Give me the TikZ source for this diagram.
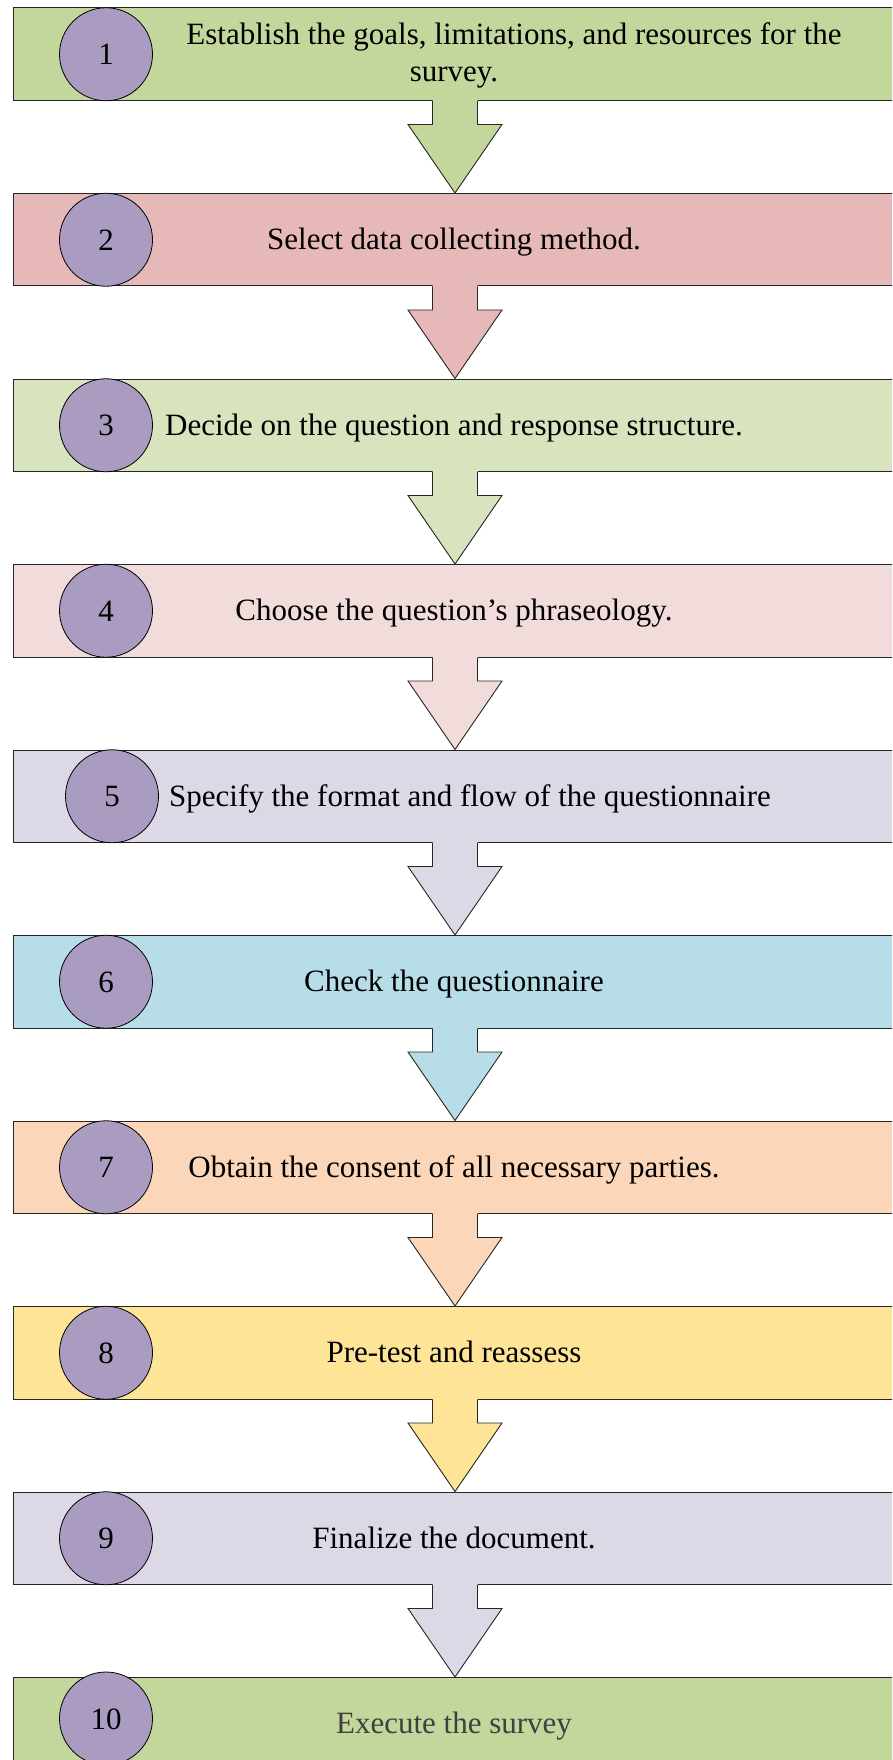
\documentclass[tikz,border=0pt]{standalone}
\usepackage{fontspec}
\setmainfont{Liberation Serif}
\begin{document}
\definecolor{fillA}{HTML}{C3D69B}
\definecolor{fillB}{HTML}{E6B9B8}
\definecolor{fillC}{HTML}{D7E4BD}
\definecolor{fillD}{HTML}{F2DCDB}
\definecolor{fillE}{HTML}{DDD8E6}
\definecolor{fillF}{HTML}{B7DEE8}
\definecolor{fillG}{HTML}{FBD6B8}
\definecolor{fillH}{HTML}{FEE497}
\definecolor{badge}{HTML}{AA9BC1}
\definecolor{softtext}{HTML}{404040}
\begin{tikzpicture}[x=1pt,y=-1pt,
  stepbox/.style={rectangle,draw=black!85,line width=1pt,inner sep=0pt,
    minimum width=884pt,minimum height=92.5pt},
  badgenode/.style={circle,draw=black,line width=0.8pt,fill=badge,inner sep=0pt,
    minimum size=93pt},
  numtext/.style={anchor=base,inner sep=0pt,font=\fontsize{31}{37}\selectfont},
  steptext/.style={anchor=base,inner sep=0pt,font=\fontsize{31}{37}\selectfont},
  arrowline/.style={draw=black!85,line width=0.9pt,line join=miter}]
\clip (0,0) rectangle (892,1760);
\fill[white] (0,0) rectangle (892,1760);

% block arrow from one step box down to the next
\newcommand{\flowarrow}[3]{%
  \fill[#3] ([xshift=-22.5pt,yshift=2pt]#1.south) -- ([xshift=-22.5pt,yshift=-23.5pt]#1.south)
    -- ([xshift=-47pt,yshift=-23.5pt]#1.south) -- (#2.north)
    -- ([xshift=47pt,yshift=-23.5pt]#1.south) -- ([xshift=22.5pt,yshift=-23.5pt]#1.south)
    -- ([xshift=22.5pt,yshift=2pt]#1.south) -- cycle;
  \draw[arrowline] ([xshift=-22.5pt]#1.south) -- ([xshift=-22.5pt,yshift=-23.5pt]#1.south)
    -- ([xshift=-47pt,yshift=-23.5pt]#1.south) -- (#2.north)
    -- ([xshift=47pt,yshift=-23.5pt]#1.south) -- ([xshift=22.5pt,yshift=-23.5pt]#1.south)
    -- ([xshift=22.5pt]#1.south);}

% step boxes
\node[stepbox,fill=fillA] (b1) at (455,54.25) {};
\node[stepbox,fill=fillB] (b2) at (455,239.75) {};
\node[stepbox,fill=fillC] (b3) at (455,425.25) {};
\node[stepbox,fill=fillD] (b4) at (455,610.75) {};
\node[stepbox,fill=fillE] (b5) at (455,796.25) {};
\node[stepbox,fill=fillF] (b6) at (455,981.75) {};
\node[stepbox,fill=fillG] (b7) at (455,1167.25) {};
\node[stepbox,fill=fillH] (b8) at (455,1352.75) {};
\node[stepbox,fill=fillE] (b9) at (455,1538.25) {};
\node[stepbox,fill=fillA] (b10) at (455,1723.75) {};

% arrows between steps
\flowarrow{b1}{b2}{fillA}
\flowarrow{b2}{b3}{fillB}
\flowarrow{b3}{b4}{fillC}
\flowarrow{b4}{b5}{fillD}
\flowarrow{b5}{b6}{fillE}
\flowarrow{b6}{b7}{fillF}
\flowarrow{b7}{b8}{fillG}
\flowarrow{b8}{b9}{fillH}
\flowarrow{b9}{b10}{fillE}

% numbered badges
\node[badgenode] (c1) at (106,54.25) {};
\node[badgenode] (c2) at (106,239.75) {};
\node[badgenode] (c3) at (106,425.25) {};
\node[badgenode] (c4) at (106,610.75) {};
\node[badgenode] (c5) at (112,796.25) {};
\node[badgenode] (c6) at (106,981.75) {};
\node[badgenode] (c7) at (106,1167.25) {};
\node[badgenode] (c8) at (106,1352.75) {};
\node[badgenode] (c9) at (106,1538.25) {};
\node[badgenode] (c10) at (106,1718.5) {};
\foreach \i in {1,...,10}{
  \node[numtext] (n\i) at ([yshift=-10.5pt]c\i.center) {\i};
}

% step labels
\node[steptext] (t1a) at (514,45) {Establish the goals, limitations, and resources for the};
\node[steptext] (t1b) at (454,82) {survey.};
\node[steptext] (t2) at (454,249.5) {Select data collecting method.};
\node[steptext] (t3) at (454,435) {Decide on the question and response structure.};
\node[steptext] (t4) at (454,620.5) {Choose the question’s phraseology.};
\node[steptext] (t5) at (470,806) {Specify the format and flow of the questionnaire};
\node[steptext] (t6) at (454,991.5) {Check the questionnaire};
\node[steptext] (t7) at (454,1177) {Obtain the consent of all necessary parties.};
\node[steptext] (t8) at (454,1362.5) {Pre-test and reassess};
\node[steptext] (t9) at (454,1548) {Finalize the document.};
\node[steptext,text=softtext] (t10) at (454,1733.5) {Execute the survey};
\end{tikzpicture}
\end{document}
